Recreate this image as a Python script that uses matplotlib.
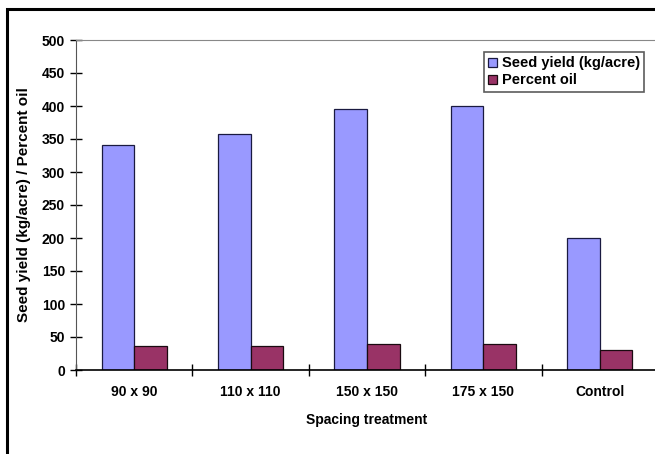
import numpy as np
import matplotlib.pyplot as plt
from matplotlib.patches import Rectangle

# DATA #######################################################################

treatments = ['90 x 90', '110 x 110', '150 x 150', '175 x 150', 'Control']
seed_yield = [341, 358, 395, 400, 200]
percent_oil = [37, 37, 40, 40, 31]
y_ticks = [0, 50, 100, 150, 200, 250, 300, 350, 400, 450, 500]

# STYLE ######################################################################

plt.rcParams['font.family'] = ['Liberation Sans', 'DejaVu Sans']
plt.rcParams['font.weight'] = 'bold'
plt.rcParams['axes.labelweight'] = 'bold'

blue = '#9999ff'
wine = '#993366'

fig = plt.figure(figsize=(6.55, 4.54), dpi=100)
ax = fig.add_axes([76 / 655, 1 - 370 / 454, 582 / 655, 330 / 454])

# outer chart frame (runs off the right and bottom edges of the image)
fig.patches.append(Rectangle((7 / 655, -0.1), 1.2, 1.1 - 9 / 454,
                             transform=fig.transFigure, fill=False,
                             edgecolor='black', linewidth=2.2))

# GRAPHICS ###################################################################

x = np.arange(len(treatments))
w = 0.28
ax.bar(x - w / 2, seed_yield, w, color=blue, edgecolor='#1a1a40',
       linewidth=0.9, label='Seed yield (kg/acre)')
ax.bar(x + w / 2, percent_oil, w, color=wine, edgecolor='#1a0a10',
       linewidth=0.9, label='Percent oil')

ax.set_xlim(-0.5, len(treatments) - 0.5)
ax.set_ylim(0, 500)
ax.set_yticks(y_ticks)
ax.tick_params(axis='y', direction='inout', length=8, width=1, labelsize=10, pad=4)

# category separators as major ticks, labels on minor ticks
ax.set_xticks(np.arange(-0.5, len(treatments) - 0.5, 1.0))
ax.set_xticklabels([])
ax.set_xticks(x, minor=True)
ax.set_xticklabels(treatments, minor=True, fontsize=10)
ax.tick_params(axis='x', which='major', direction='inout', length=8, width=1)
ax.tick_params(axis='x', which='minor', length=0, pad=11)

ax.spines['left'].set_color('#555555')
ax.spines['bottom'].set_color('black')
ax.spines['bottom'].set_linewidth(1.2)
ax.spines['top'].set_color('#888888')
ax.spines['right'].set_visible(False)

ax.set_xlabel('Spacing treatment', fontsize=10, labelpad=10)
ax.set_ylabel('Seed yield (kg/acre) / Percent oil', fontsize=11, labelpad=8)

leg = ax.legend(loc='upper right', bbox_to_anchor=(644 / 655, 1 - 52 / 454),
                bbox_transform=fig.transFigure, fontsize=10.5, frameon=True,
                fancybox=False, handlelength=0.6, handleheight=0.6,
                handletextpad=0.3, borderpad=0.3, labelspacing=0.2,
                borderaxespad=0)
leg.get_frame().set_edgecolor('#333333')
leg.get_frame().set_linewidth(1.2)

fig.savefig('out.png', dpi=100)
